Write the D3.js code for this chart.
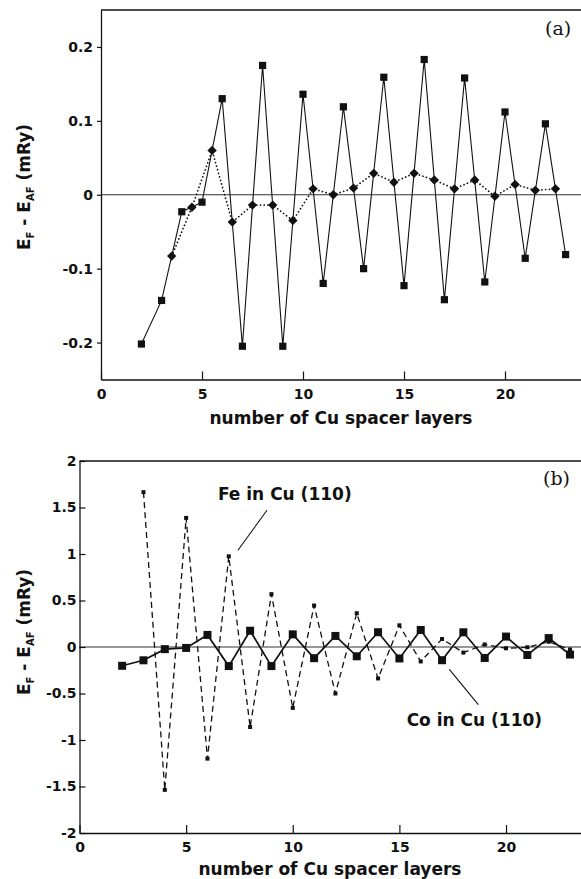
<!DOCTYPE html>
<html>
<head>
<meta charset="utf-8">
<script src="https://cdn.jsdelivr.net/npm/d3@7"></script>
<style>
  body { margin: 0; background: #fff; }
  svg text { font-family: "DejaVu Sans", sans-serif; font-weight: bold; fill: #111; }
  svg text.panel { font-family: "DejaVu Serif", serif; font-weight: normal; }
</style>
</head>
<body>
<div id="chart"></div>
<script>
// number of Cu spacer layers for the Co in Cu (110) squares
var coLayers = [2, 3, 4, 5, 6, 7, 8, 9, 10, 11, 12, 13, 14, 15, 16, 17, 18, 19, 20, 21, 22, 23];
var coValues = [-0.202, -0.143, -0.023, -0.010, 0.130, -0.205, 0.175, -0.205, 0.136, -0.120, 0.119,
                -0.100, 0.159, -0.123, 0.183, -0.142, 0.158, -0.118, 0.112, -0.086, 0.096, -0.081];

// diamonds (dotted) sit at half layers
var halfLayers = [3.5, 4.5, 5.5, 6.5, 7.5, 8.5, 9.5, 10.5, 11.5, 12.5, 13.5, 14.5, 15.5, 16.5,
                  17.5, 18.5, 19.5, 20.5, 21.5, 22.5];
var halfValues = [-0.083, -0.017, 0.060, -0.037, -0.014, -0.014, -0.035, 0.008, 0.000, 0.009,
                  0.029, 0.017, 0.029, 0.020, 0.008, 0.020, -0.002, 0.014, 0.006, 0.008];

// Fe in Cu (110), dashed
var feLayers = [3, 4, 5, 6, 7, 8, 9, 10, 11, 12, 13, 14, 15, 16, 17, 18, 19, 20, 21, 22, 23];
var feValues = [1.665, -1.536, 1.388, -1.200, 0.975, -0.860, 0.568, -0.655, 0.446, -0.500, 0.363,
                -0.338, 0.233, -0.155, 0.086, -0.060, 0.027, -0.014, -0.003, 0.057, -0.027];

var xTicks = [0, 5, 10, 15, 20];
var yTicksA = [-0.2, -0.1, 0, 0.1, 0.2];
var yTicksB = [-2, -1.5, -1, -0.5, 0, 0.5, 1, 1.5, 2];

var width = 581, height = 879;

var svg = d3.select('#chart')
  .append('svg')
  .attr('width', width)
  .attr('height', height);

function styleAxis(g, size) {
  g.attr('font-family', null).attr('font-size', size);
  g.select('.domain').attr('stroke', '#111').attr('stroke-width', 1.3);
  g.selectAll('.tick line').attr('stroke', '#111').attr('stroke-width', 1.2);
  g.selectAll('.tick text').attr('fill', '#111');
}

function yTitle(x, y) {
  var t = svg.append('text')
    .attr('transform', 'translate(' + x + ',' + y + ') rotate(-90)')
    .attr('text-anchor', 'middle')
    .attr('font-size', 17);
  t.append('tspan').text('E');
  t.append('tspan').attr('font-size', 10).attr('dy', 4).text('F');
  t.append('tspan').attr('dy', -4).text(' - E');
  t.append('tspan').attr('font-size', 10).attr('dy', 4).text('AF');
  t.append('tspan').attr('dy', -4).text(' (mRy)');
}

function frame(x, y, yFmt, yTicks, xPad, yPad, yTick) {
  var x0 = x.range()[0], y0 = y.range()[0], y1 = y.range()[1];

  // zero line
  svg.append('line')
    .attr('x1', x0).attr('x2', width)
    .attr('y1', y(0)).attr('y2', y(0))
    .attr('stroke', '#333').attr('stroke-width', 1);

  // top border
  svg.append('line')
    .attr('x1', x0).attr('x2', width)
    .attr('y1', y1).attr('y2', y1)
    .attr('stroke', '#111').attr('stroke-width', 1.3);

  svg.append('g')
    .attr('transform', 'translate(0,' + y0 + ')')
    .call(d3.axisBottom(x).tickValues(xTicks).tickFormat(d3.format('d'))
      .tickSizeInner(-8).tickSizeOuter(0).tickPadding(xPad))
    .call(styleAxis, 14);

  svg.append('g')
    .attr('transform', 'translate(' + x0 + ',0)')
    .call(d3.axisLeft(y).tickValues(yTicks).tickFormat(yFmt)
      .tickSizeInner(yTick).tickSizeOuter(0).tickPadding(yPad))
    .call(styleAxis, 14);
}

function fmt(d) { return d === 0 ? '0' : String(d); }

// ---------- panel (a) ----------
var xa = d3.scaleLinear().domain([0, 24]).range([101, 585.8]);
var ya = d3.scaleLinear().domain([-0.25, 0.25]).range([379.5, 10]);

frame(xa, ya, fmt, yTicksA, 10, 4, 4);

var coA = coLayers.map(function(d, i) { return [d, coValues[i]]; });
var halfA = halfLayers.map(function(d, i) { return [d, halfValues[i]]; });

var lineA = d3.line().x(function(d) { return xa(d[0]); }).y(function(d) { return ya(d[1]); });

svg.append('path')
  .datum(halfA)
  .attr('d', lineA)
  .attr('fill', 'none')
  .attr('stroke', '#111')
  .attr('stroke-width', 1.7)
  .attr('stroke-linecap', 'round')
  .attr('stroke-dasharray', '0.1,3.6');

svg.append('path')
  .datum(coA)
  .attr('d', lineA)
  .attr('fill', 'none')
  .attr('stroke', '#111')
  .attr('stroke-width', 1.1);

svg.selectAll('.sqA')
  .data(coA)
  .enter().append('rect')
  .attr('x', function(d) { return xa(d[0]) - 3.6; })
  .attr('y', function(d) { return ya(d[1]) - 3.6; })
  .attr('width', 7.2).attr('height', 7.2)
  .attr('fill', '#111');

svg.selectAll('.diaA')
  .data(halfA)
  .enter().append('path')
  .attr('d', d3.symbol().type(d3.symbolSquare).size(44))
  .attr('transform', function(d) {
    return 'translate(' + xa(d[0]) + ',' + ya(d[1]) + ') rotate(45)';
  })
  .attr('fill', '#111');

svg.append('text')
  .attr('class', 'panel')
  .attr('x', 545).attr('y', 35)
  .attr('font-size', 19)
  .text('(a)');

svg.append('text')
  .attr('x', 341).attr('y', 424)
  .attr('text-anchor', 'middle')
  .attr('font-size', 17)
  .text('number of Cu spacer layers');

yTitle(30, 187);

// ---------- panel (b) ----------
var xb = d3.scaleLinear().domain([0, 24.5]).range([79.5, 602]);
var yb = d3.scaleLinear().domain([-2, 2]).range([833, 461]);

frame(xb, yb, fmt, yTicksB, 9, 3, -6);

var coB = coLayers.map(function(d, i) { return [d, coValues[i]]; });
var feB = feLayers.map(function(d, i) { return [d, feValues[i]]; });

var lineB = d3.line().x(function(d) { return xb(d[0]); }).y(function(d) { return yb(d[1]); });

svg.append('path')
  .datum(feB)
  .attr('d', lineB)
  .attr('fill', 'none')
  .attr('stroke', '#111')
  .attr('stroke-width', 1.3)
  .attr('stroke-dasharray', '6,4');

svg.append('path')
  .datum(coB)
  .attr('d', lineB)
  .attr('fill', 'none')
  .attr('stroke', '#111')
  .attr('stroke-width', 1.7);

svg.selectAll('.feB')
  .data(feB)
  .enter().append('rect')
  .attr('x', function(d) { return xb(d[0]) - 2; })
  .attr('y', function(d) { return yb(d[1]) - 2; })
  .attr('width', 4).attr('height', 4)
  .attr('fill', '#111');

svg.selectAll('.sqB')
  .data(coB)
  .enter().append('rect')
  .attr('x', function(d) { return xb(d[0]) - 4; })
  .attr('y', function(d) { return yb(d[1]) - 4; })
  .attr('width', 8).attr('height', 8)
  .attr('fill', '#111');

// labels with leader lines, placed in data units
var notes = [
  { text: 'Fe in Cu (110)', tx: 6.49, ty: 1.58, x1: 8.79, y1: 1.47, x2: 7.43, y2: 1.04 },
  { text: 'Co in Cu (110)', tx: 15.34, ty: -0.85, x1: 18.7, y1: -0.62, x2: 17.34, y2: -0.24 }
];

notes.forEach(function(n) {
  svg.append('line')
    .attr('x1', xb(n.x1)).attr('y1', yb(n.y1))
    .attr('x2', xb(n.x2)).attr('y2', yb(n.y2))
    .attr('stroke', '#111').attr('stroke-width', 1.1);
  svg.append('text')
    .attr('x', xb(n.tx)).attr('y', yb(n.ty))
    .attr('font-size', 17)
    .text(n.text);
});

svg.append('text')
  .attr('class', 'panel')
  .attr('x', 543).attr('y', 485)
  .attr('font-size', 19)
  .text('(b)');

svg.append('text')
  .attr('x', 330).attr('y', 875)
  .attr('text-anchor', 'middle')
  .attr('font-size', 17)
  .text('number of Cu spacer layers');

yTitle(30, 632);
</script>
</body>
</html>
